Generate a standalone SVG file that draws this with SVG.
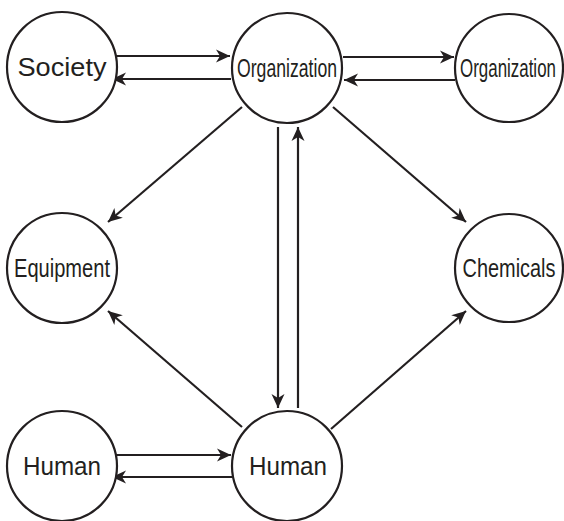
<svg xmlns="http://www.w3.org/2000/svg" width="564" height="521" viewBox="0 0 564 521">
<style>
.node circle{fill:#fff;stroke:#231f20;stroke-width:2.2}
.node text{font-family:"Liberation Sans",Arial,sans-serif;fill:#231f20;text-anchor:middle;font-size:25px}
#connectors line{stroke:#231f20;stroke-width:2.2;marker-end:url(#arr)}
</style>
<defs>
<marker id="arr" markerUnits="userSpaceOnUse" markerWidth="18" markerHeight="16" viewBox="-16 -8 18 16" refX="0" refY="0" orient="auto">
<path d="M0,0 L-14,-6.5 L-10,0 L-14,6.5 Z" fill="#231f20"/>
</marker>
</defs>
<rect width="564" height="521" fill="#fff"/>
<g id="connectors">
<line x1="111" y1="56" x2="230" y2="56"/>
<line x1="231" y1="79" x2="112" y2="79"/>
<line x1="343" y1="57" x2="454" y2="57"/>
<line x1="455" y1="80" x2="344" y2="80"/>
<line x1="278" y1="127" x2="278" y2="408"/>
<line x1="298" y1="408" x2="298" y2="127"/>
<line x1="242" y1="107" x2="108" y2="222"/>
<line x1="333" y1="107" x2="466" y2="222"/>
<line x1="242" y1="427" x2="108" y2="311"/>
<line x1="331" y1="429" x2="466" y2="311"/>
<line x1="111" y1="455" x2="231" y2="455"/>
<line x1="232" y1="477" x2="112" y2="477"/>
</g>
<g id="society" class="node"><circle cx="62" cy="67" r="55"/><text x="62" y="76" textLength="89" lengthAdjust="spacingAndGlyphs">Society</text></g>
<g id="organization1" class="node"><circle cx="287" cy="68" r="55"/><text transform="translate(287,77) scale(0.706,1)">Organization</text></g>
<g id="organization2" class="node"><circle cx="509" cy="68" r="54"/><text transform="translate(508,77) scale(0.677,1)">Organization</text></g>
<g id="equipment" class="node"><circle cx="62" cy="268" r="55"/><text transform="translate(62,277) scale(0.803,1)">Equipment</text></g>
<g id="chemicals" class="node"><circle cx="509" cy="268" r="54"/><text transform="translate(509,277) scale(0.797,1)">Chemicals</text></g>
<g id="human1" class="node"><circle cx="62" cy="466" r="55"/><text x="62" y="475" textLength="78" lengthAdjust="spacingAndGlyphs">Human</text></g>
<g id="human2" class="node"><circle cx="287" cy="466" r="55"/><text x="288" y="475" textLength="78" lengthAdjust="spacingAndGlyphs">Human</text></g>
</svg>
